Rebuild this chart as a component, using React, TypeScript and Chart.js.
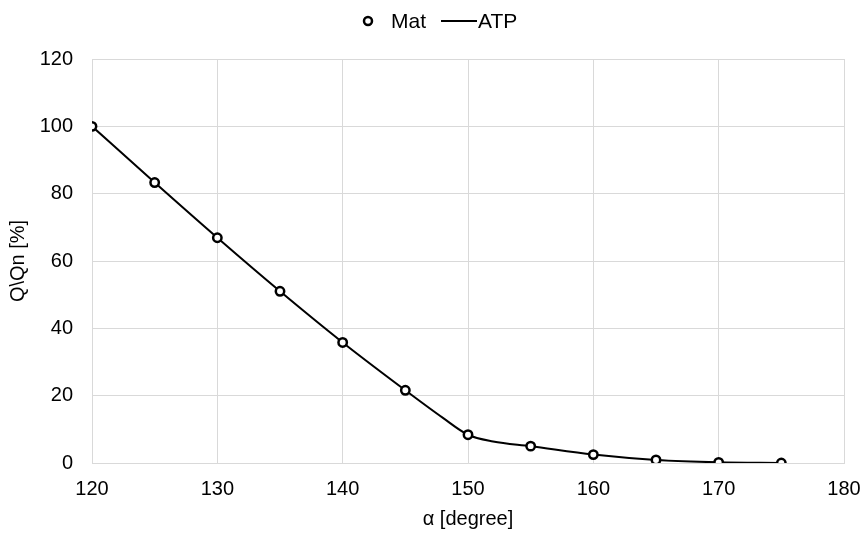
import React, { useEffect, useRef } from "react";
import { Chart, registerables } from "chart.js";

Chart.register(...registerables);

const angles = [120, 125, 130, 135, 140, 145, 150, 155, 160, 165, 170, 175];
const matValues = [100, 83.3, 66.9, 51.0, 35.8, 21.6, 8.4, 5.0, 2.5, 0.9, 0.2, 0.0];
const atpAngles = [120, 125, 130, 135, 140, 145, 148, 150, 152, 155, 160, 165, 170, 175];
const atpValues = [100, 83.3, 66.9, 51.0, 35.8, 21.6, 13.4, 8.4, 6.4, 5.0, 2.5, 0.9, 0.2, 0.0];
const legendLabels = ["Mat", "ATP"];
const xTitle = "α [degree]";
const yTitle = "Q\\Qn [%]";

const FONT = "'Liberation Sans', Arial, sans-serif";

const legendPlugin = {
  id: "customLegend",
  afterDraw(chart: any) {
    const ctx = chart.ctx as CanvasRenderingContext2D;
    ctx.save();
    ctx.font = `21px ${FONT}`;
    ctx.textBaseline = "middle";
    const y = 21;
    const w0 = ctx.measureText(legendLabels[0]).width;
    let x = chart.width / 2 - 64;
    ctx.beginPath();
    ctx.arc(x, y, 4, 0, Math.PI * 2);
    ctx.fillStyle = "#fff";
    ctx.fill();
    ctx.lineWidth = 2.5;
    ctx.strokeStyle = "#000";
    ctx.stroke();
    x += 23;
    ctx.fillStyle = "#000";
    ctx.fillText(legendLabels[0], x, y + 1);
    x += w0 + 15;
    ctx.beginPath();
    ctx.moveTo(x, y);
    ctx.lineTo(x + 36, y);
    ctx.lineWidth = 2;
    ctx.stroke();
    x += 37;
    ctx.fillText(legendLabels[1], x, y + 1);
    ctx.restore();
  },
};

export default function App() {
  const ref = useRef<HTMLCanvasElement>(null);
  useEffect(() => {
    document.body.style.margin = "0";
    const chart = new Chart(ref.current!, {
      type: "scatter",
      data: {
        datasets: [
          {
            label: legendLabels[1],
            data: atpAngles.map((a, i) => ({ x: a, y: atpValues[i] })),
            showLine: true,
            borderColor: "#000",
            borderWidth: 2,
            pointRadius: 0,
            cubicInterpolationMode: "monotone",
            order: 2,
          },
          {
            label: legendLabels[0],
            data: angles.map((a, i) => ({ x: a, y: matValues[i] })),
            showLine: false,
            pointRadius: 4.2,
            pointBorderWidth: 2.5,
            pointBackgroundColor: "#fff",
            pointBorderColor: "#000",
            order: 1,
          },
        ],
      },
      options: {
        animation: false,
        responsive: false,
        layout: { padding: { top: 59, right: 20, left: 0, bottom: 0 } },
        plugins: { legend: { display: false }, tooltip: { enabled: false } },
        scales: {
          x: {
            type: "linear",
            min: 120,
            max: 180,
            ticks: { stepSize: 10, color: "#000", font: { size: 20, family: FONT }, padding: 14 },
            grid: { color: "#d9d9d9", drawTicks: false, lineWidth: 1 },
            border: { color: "#d9d9d9" },
            title: { display: true, text: xTitle, color: "#000", font: { size: 20, family: FONT }, padding: { top: 5, bottom: 5 } },
            afterFit: (s: any) => { s.height = 73; s.paddingRight = 0; s.paddingLeft = 0; },
          },
          y: {
            min: 0,
            max: 120,
            ticks: { stepSize: 20, color: "#000", font: { size: 20, family: FONT }, padding: 19 },
            grid: { color: "#d9d9d9", drawTicks: false, lineWidth: 1 },
            border: { color: "#d9d9d9" },
            title: { display: true, text: yTitle, color: "#000", font: { size: 20, family: FONT }, padding: { top: 6, bottom: 6 } },
            afterFit: (s: any) => { s.width = 92; s.paddingTop = 0; s.paddingBottom = 0; },
          },
        },
      },
      plugins: [legendPlugin],
    } as any);
    return () => chart.destroy();
  }, []);
  return (
    <div style={{ width: 864, height: 536 }}>
      <canvas ref={ref} width={864} height={536} />
    </div>
  );
}
